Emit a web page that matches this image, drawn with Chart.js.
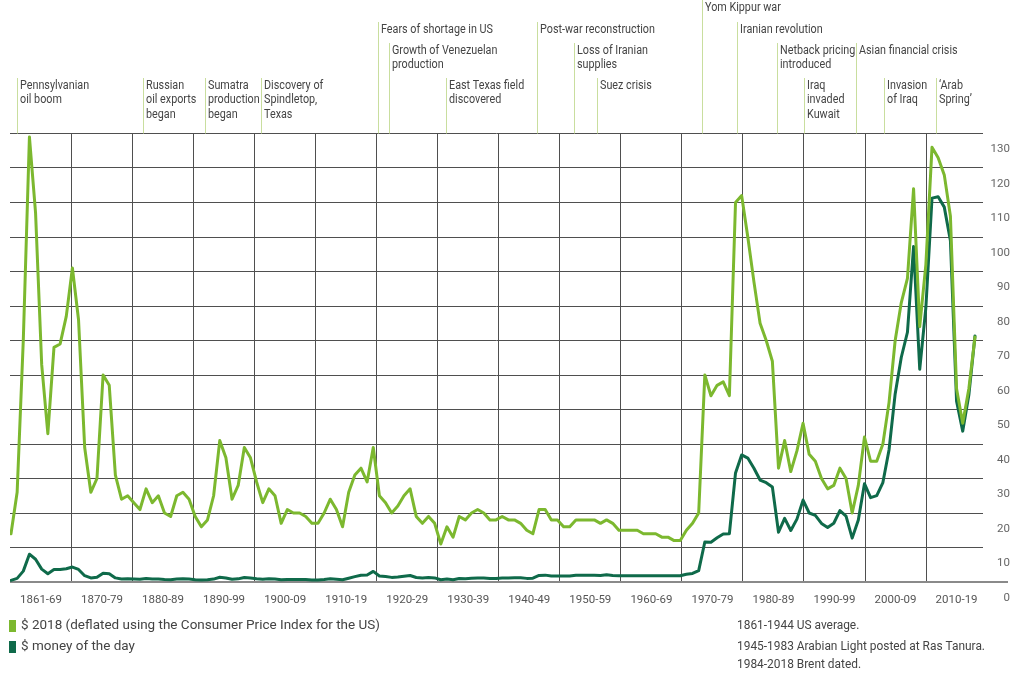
<!DOCTYPE html>
<html><head><meta charset="utf-8">
<script src="https://cdn.jsdelivr.net/npm/chart.js@4.4.1/dist/chart.umd.min.js"></script>
<style>html,body{margin:0;padding:0;background:#fff}#wrap{width:1010px;height:678px;position:relative}</style>
</head><body><div id="wrap"><canvas id="c" width="1010" height="678"></canvas></div>
<script>
// ---- DATA ----
const firstYear = 1861, lastYear = 2018;
const years = Array.from({length: lastYear - firstYear + 1}, (_, i) => firstYear + i);

const real2018 = [
  14, 26, 70, 129, 107, 63, 43, 68, 69,
  77, 91, 76, 39, 26, 30, 60, 57, 31, 24,
  25, 23, 21, 27, 23, 25, 20, 19, 25, 26,
  24, 19, 16, 18, 25, 41, 36, 24, 28, 39,
  36, 29, 23, 27, 25, 17, 21, 20, 20, 19,
  17, 17, 20, 24, 21, 16, 26, 31, 33, 29,
  39, 25, 23, 20, 22, 25, 27, 19, 17, 19,
  17, 11, 16, 13, 19, 18, 20, 21, 20, 18,
  18, 19, 18, 18, 17, 15, 14, 21, 21, 18,
  18, 16, 16, 18, 18, 18, 18, 17, 18, 17,
  15, 15, 15, 15, 14, 14, 14, 13, 13, 12,
  12, 15, 17, 20, 60, 54, 57, 58, 54, 110,
  112, 100, 87, 75, 70, 64, 33, 41, 32, 38,
  46, 37, 35, 30, 27, 28, 33, 30, 20, 28,
  42, 35, 35, 40, 52, 70, 81, 88, 114, 74,
  92, 126, 123, 118, 106, 56, 46, 56, 71
];

const moneyOfDay = [
  0.49, 1.05, 3.15, 8.06, 6.59, 3.74, 2.41, 3.63, 3.64,
  3.86, 4.34, 3.64, 1.83, 1.17, 1.35, 2.56, 2.42, 1.19, 0.86,
  0.95, 0.86, 0.78, 1.00, 0.84, 0.88, 0.71, 0.67, 0.88, 0.94,
  0.87, 0.67, 0.56, 0.64, 0.84, 1.36, 1.18, 0.79, 0.91, 1.29,
  1.19, 0.96, 0.80, 0.94, 0.86, 0.62, 0.73, 0.72, 0.72, 0.70,
  0.61, 0.61, 0.74, 0.95, 0.81, 0.64, 1.10, 1.56, 1.98, 2.01,
  3.07, 1.73, 1.61, 1.34, 1.43, 1.68, 1.88, 1.30, 1.17, 1.27,
  1.19, 0.65, 0.87, 0.67, 1.00, 0.97, 1.09, 1.18, 1.13, 1.02,
  1.02, 1.14, 1.19, 1.20, 1.21, 1.05, 1.12, 1.90, 1.99, 1.71,
  1.71, 1.71, 1.71, 1.93, 1.93, 1.93, 1.93, 1.90, 2.08, 1.90,
  1.80, 1.80, 1.80, 1.80, 1.80, 1.80, 1.80, 1.80, 1.80, 1.80,
  1.80, 2.24, 2.48, 3.29, 11.58, 11.53, 12.80, 13.92, 14.02, 31.61,
  36.83, 35.93, 32.97, 29.55, 28.78, 27.56, 14.43, 18.44, 14.92, 18.23,
  23.73, 20.00, 19.32, 16.97, 15.82, 17.02, 20.67, 19.09, 12.72, 17.97,
  28.50, 24.44, 25.02, 28.83, 38.27, 54.52, 65.14, 72.39, 97.26, 61.67,
  79.50, 111.26, 111.67, 108.66, 98.95, 52.39, 43.73, 54.19, 71.31
];

const decadeLabels = ["1861-69","1870-79","1880-89","1890-99","1900-09","1910-19","1920-29","1930-39",
  "1940-49","1950-59","1960-69","1970-79","1980-89","1990-99","2000-09","2010-19"];

const seriesNames = ["$ 2018 (deflated using the Consumer Price Index for the US)", "$ money of the day"];

const eventYears = [1861.9, 1882.5, 1892.6, 1901.7, 1920.7, 1922.6, 1931.9, 1946.6, 1952.7, 1956.4,
  1973.5, 1979.3, 1985.7, 1990.2, 1998.7, 2003.2, 2011.6];
const eventLabels = [
  ["Pennsylvanian","oil boom"], ["Russian","oil exports","began"], ["Sumatra","production","began"],
  ["Discovery of","Spindletop,","Texas"], ["Fears of shortage in US"], ["Growth of Venezuelan","production"],
  ["East Texas field","discovered"], ["Post-war reconstruction"], ["Loss of Iranian","supplies"], ["Suez crisis"],
  ["Yom Kippur war"], ["Iranian revolution"], ["Netback pricing","introduced"], ["Iraq","invaded","Kuwait"],
  ["Asian financial crisis"], ["Invasion","of Iraq"], ["\u2018Arab","Spring\u2019"]
];

const sourceNotes = ["1861-1944 US average.", "1945-1983 Arabian Light posted at Ras Tanura.", "1984-2018 Brent dated."];

// ---- LAYOUT / STYLE ----
const LIGHT = '#7cb82f', DARK = '#0f6a4a', GRID = '#4f4f4f';
const FONT = 'Roboto, "Liberation Sans", Arial, sans-serif';
const eventTier = [3,3,3,3,1,2,3,1,2,3,0,1,2,3,2,3,3];
const tierTop = [0, 22, 43, 78];
const pxPerYear = 6.14;
const gridStep = 61.04 / pxPerYear;
const firstGrid = firstYear + (71.5 - 11) / pxPerYear;

function condensedText(ctx, text, x, y, targetRef, refWidth) {
  ctx.save();
  const sx = refWidth / ctx.measureText(targetRef).width;
  ctx.translate(x, y);
  ctx.scale(sx, 1);
  ctx.fillText(text, 0, 0);
  ctx.restore();
}

const decorPlugin = {
  id: 'decor',
  beforeDatasetsDraw(chart) {
    const ctx = chart.ctx, a = chart.chartArea;
    ctx.save();
    ctx.strokeStyle = '#8a8a8a';
    ctx.lineWidth = 2;
    ctx.beginPath();
    ctx.moveTo(a.left, a.bottom);
    ctx.lineTo(1008, a.bottom);
    ctx.stroke();
    ctx.restore();
  },
  afterDraw(chart) {
    const ctx = chart.ctx, a = chart.chartArea, xs = chart.scales.x;
    ctx.save();
    ctx.font = '12px ' + FONT;
    ctx.textBaseline = 'middle';
    ctx.textAlign = 'left';
    eventYears.forEach((yr, i) => {
      const x = Math.round(xs.getPixelForValue(yr)) + 0.5;
      const top = tierTop[eventTier[i]];
      ctx.strokeStyle = '#c9de9e';
      ctx.lineWidth = 1;
      ctx.beginPath();
      ctx.moveTo(x, top);
      ctx.lineTo(x, a.top);
      ctx.stroke();
      ctx.fillStyle = '#444';
      eventLabels[i].forEach((t, j) => {
        condensedText(ctx, t, x + 2.5, top + 7.5 + j * 14.5, 'Fears of shortage in US', 112);
      });
    });
    ctx.font = '13px ' + FONT;
    chart.data.datasets.forEach((ds, i) => {
      const y = 626 + i * 21;
      ctx.fillStyle = ds.borderColor;
      ctx.fillRect(9, y - 6, 7, 12);
      ctx.fillStyle = '#444';
      condensedText(ctx, ds.label, 21, y, seriesNames[0], 359);
    });
    ctx.font = '12px ' + FONT;
    ctx.fillStyle = '#444';
    const noteY = [626, 647, 665];
    sourceNotes.forEach((t, i) => condensedText(ctx, t, 737, noteY[i], sourceNotes[1], 248));
    ctx.restore();
  }
};

new Chart(document.getElementById('c'), {
  type: 'line',
  data: {
    datasets: [
      { label: seriesNames[0], data: years.map((y, i) => ({x: y, y: real2018[i]})),
        borderColor: LIGHT, backgroundColor: LIGHT, borderWidth: 3, pointRadius: 0, tension: 0,
        borderJoinStyle: 'round', borderCapStyle: 'round' },
      { label: seriesNames[1], data: years.map((y, i) => ({x: y, y: moneyOfDay[i]})),
        borderColor: DARK, backgroundColor: DARK, borderWidth: 3, pointRadius: 0, tension: 0,
        borderJoinStyle: 'round', borderCapStyle: 'round' }
    ]
  },
  options: {
    responsive: false, animation: false, devicePixelRatio: 1,
    layout: { padding: { top: 133.5, left: 10, right: 0, bottom: 70 } },
    plugins: { legend: { display: false }, tooltip: { enabled: false } },
    scales: {
      x: {
        type: 'linear',
        min: firstYear - 1 / pxPerYear,
        max: firstYear + (983 - 11) / pxPerYear,
        afterBuildTicks: (s) => { s.ticks = decadeLabels.map((_, i) => ({ value: firstGrid - gridStep / 2 + i * gridStep })); },
        afterFit: (s) => { s.height = 26; },
        ticks: { autoSkip: false, maxRotation: 0, padding: 11, color: '#555',
          font: { family: FONT, size: 11.5 },
          callback: (v, i) => decadeLabels[i] },
        grid: { offset: true, drawTicks: false, lineWidth: 1,
          color: (c) => c.index === 0 ? 'rgba(0,0,0,0)' : GRID },
        border: { display: false }
      },
      y: {
        position: 'right', min: 0, max: 130,
        afterFit: (s) => { s.width = 27; },
        ticks: { stepSize: 10, padding: 4, labelOffset: 16, crossAlign: 'far', color: '#666',
          font: { family: FONT, size: 11.5 } },
        grid: { drawTicks: false, lineWidth: 1, color: GRID },
        border: { display: false }
      }
    }
  },
  plugins: [decorPlugin]
});
</script></body></html>
